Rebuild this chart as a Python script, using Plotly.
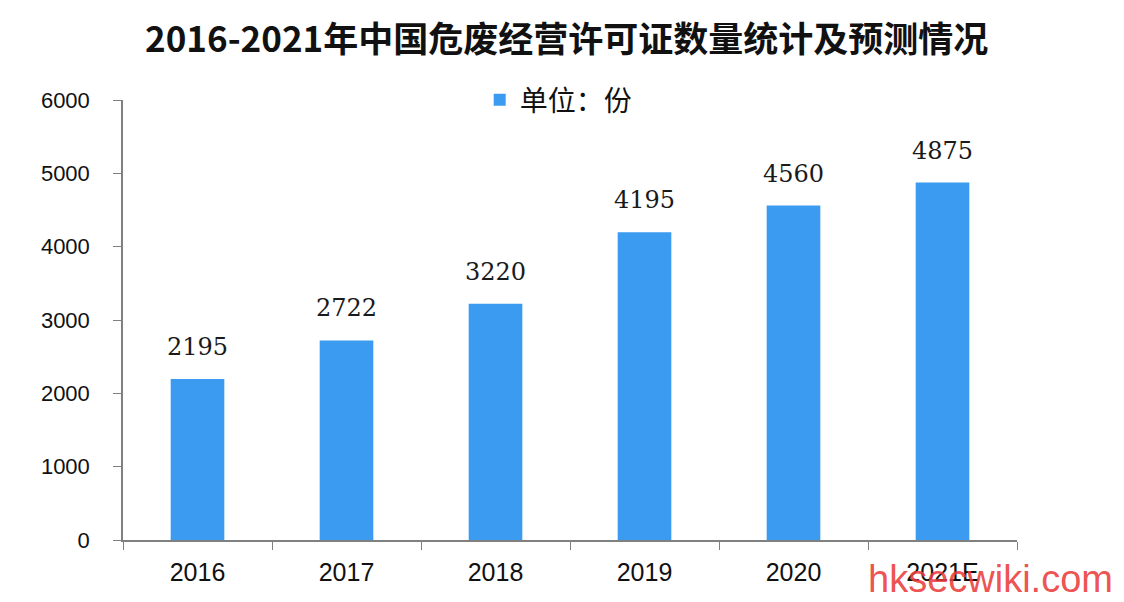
import plotly.graph_objects as go

categories = ["2016", "2017", "2018", "2019", "2020", "2021E"]
values = [2195, 2722, 3220, 4195, 4560, 4875]
series_name = "单位：份"
title_text = "2016-2021年中国危废经营许可证数量统计及预测情况"
y_ticks = [0, 1000, 2000, 3000, 4000, 5000, 6000]

fig = go.Figure()
fig.add_trace(go.Bar(
    x=categories, y=values, name=series_name,
    marker=dict(color="#3a9bf0", line=dict(width=0)),
    showlegend=True,
))

for i, v in enumerate(values):
    fig.add_annotation(x=i, y=v, text=str(v), showarrow=False,
                       yanchor="bottom", yshift=16,
                       font=dict(family="DejaVu Serif", size=24, color="#1a1a1a"))

fig.add_annotation(xref="paper", yref="paper", x=1.11, y=-0.088, xanchor="right", yanchor="middle",
                   text="hksecwiki.com", showarrow=False,
                   font=dict(family="Liberation Sans", size=38, color="rgba(235,60,60,0.9)"))

fig.update_layout(
    width=1124, height=602,
    margin=dict(l=115, r=115, t=92, b=70),
    paper_bgcolor="white", plot_bgcolor="white",
    title=dict(text="<b>" + title_text + "</b>", x=0.497, xanchor="center", y=0.947, yanchor="middle",
               font=dict(family="Noto Sans CJK SC", size=35, color="#111111")),
    bargap=0.64,
    legend=dict(x=0.399, y=1.0, xanchor="left", yanchor="middle", orientation="h",
                font=dict(family="Noto Sans CJK SC", size=28, color="#111111"),
                itemwidth=30, bgcolor="rgba(0,0,0,0)"),
    xaxis=dict(type="category", range=[-0.5, len(categories) - 0.5], showline=True,
               linecolor="#808080", linewidth=1.5,
               ticks="outside", tickson="boundaries", ticklen=8, tickcolor="#808080",
               ticklabelstandoff=9,
               tickfont=dict(family="Liberation Sans", size=25, color="#111111"),
               showgrid=False, automargin=False),
    yaxis=dict(range=[0, 6000], tickvals=y_ticks, showline=True, linecolor="#808080", linewidth=1.5,
               ticks="outside", ticklen=8, tickcolor="#808080", showgrid=False, zeroline=False,
               ticklabelstandoff=19,
               tickfont=dict(family="Liberation Sans", size=22, color="#111111"), automargin=False),
)

fig.write_html("out.html")
